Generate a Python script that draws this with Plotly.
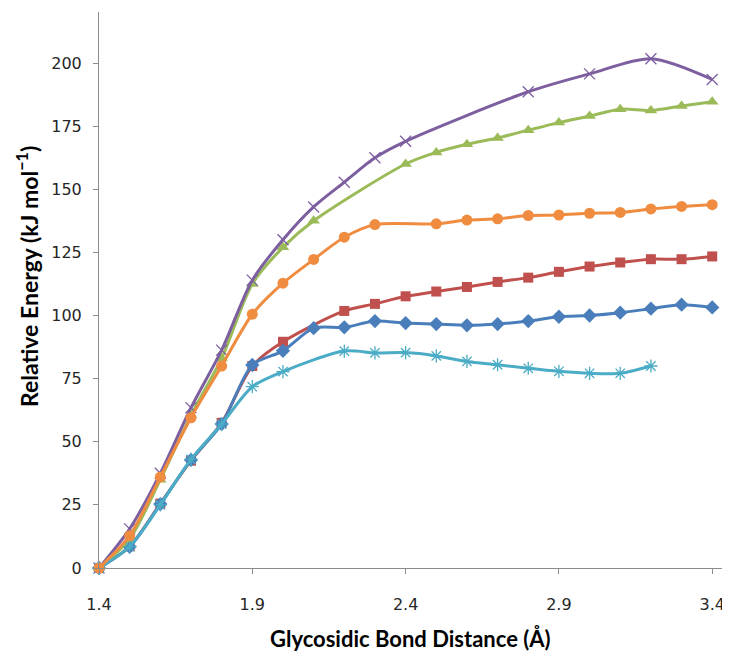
import plotly.graph_objects as go

blue_x = [1.4, 1.5, 1.6, 1.7, 1.8, 1.9, 2.0, 2.1, 2.2, 2.3, 2.4, 2.5, 2.6, 2.7, 2.8, 2.9, 3.0, 3.1, 3.2, 3.3, 3.4]
blue_y = [0, 8.4, 25.3, 42.8, 57, 80.4, 86, 95, 95.3, 97.8, 97, 96.6, 96.1, 96.6, 97.8, 99.5, 100, 101.1, 102.7, 104.3, 103.2]

red_x = [1.4, 1.5, 1.6, 1.7, 1.8, 1.9, 2.0, 2.2, 2.3, 2.4, 2.5, 2.6, 2.7, 2.8, 2.9, 3.0, 3.1, 3.2, 3.3, 3.4]
red_y = [0, 8.6, 25.5, 42.5, 57.5, 80, 89.6, 101.8, 104.6, 107.6, 109.5, 111.3, 113.3, 115, 117.3, 119.4, 121, 122.3, 122.3, 123.4]

green_x = [1.4, 1.5, 1.6, 1.7, 1.8, 1.9, 2.0, 2.1, 2.4, 2.5, 2.6, 2.7, 2.8, 2.9, 3.0, 3.1, 3.2, 3.3, 3.4]
green_y = [0, 11.5, 35, 60.5, 83, 112.5, 127, 137.5, 160, 164.6, 167.8, 170.3, 173.4, 176.4, 179, 181.7, 181.2, 183, 184.7]

purple_x = [1.4, 1.5, 1.6, 1.7, 1.8, 1.9, 2.0, 2.1, 2.2, 2.3, 2.4, 2.8, 3.0, 3.2, 3.4]
purple_y = [0, 15.5, 37.5, 63.5, 86.3, 114, 130, 143, 152.8, 162.5, 169, 188.6, 195.7, 201.7, 193.5]

cyan_x = [1.4, 1.5, 1.6, 1.7, 1.8, 1.9, 2.0, 2.2, 2.3, 2.4, 2.5, 2.6, 2.7, 2.8, 2.9, 3.0, 3.1, 3.2]
cyan_y = [0, 8.5, 25, 43, 57, 71.8, 77.8, 85.9, 85.2, 85.3, 84, 81.8, 80.5, 79.1, 77.9, 77.1, 77.1, 80]

orange_x = [1.4, 1.5, 1.6, 1.7, 1.8, 1.9, 2.0, 2.1, 2.2, 2.3, 2.5, 2.6, 2.7, 2.8, 2.9, 3.0, 3.1, 3.2, 3.3, 3.4]
orange_y = [0, 12.8, 36, 59.5, 80, 100.5, 112.8, 122.2, 131, 136, 136.3, 137.8, 138.3, 139.6, 139.8, 140.5, 140.8, 142.2, 143.2, 143.9]

x_ticks = [1.4, 1.9, 2.4, 2.9, 3.4]
y_ticks = [0, 25, 50, 75, 100, 125, 150, 175, 200]

series = [
    (red_x, red_y, "#C0504D", "square", 10, None),
    (blue_x, blue_y, "#4A7EBB", "diamond", 11, None),
    (green_x, green_y, "#9BBB59", "triangle-up", 11, None),
    (purple_x, purple_y, "#7D5FA0", "x-thin-open", 11, 1.3),
    (cyan_x, cyan_y, "#4BACC6", "asterisk-open", 11, 1.3),
    (orange_x, orange_y, "#F08C40", "circle", 11, None),
]

fig = go.Figure()
for xs, ys, col, sym, size, lw in series:
    marker = dict(symbol=sym, size=size, color=col)
    if lw is not None:
        marker["line"] = dict(color=col, width=lw)
    else:
        marker["line"] = dict(width=0)
    fig.add_trace(go.Scatter(
        x=xs, y=ys, mode="lines+markers",
        line=dict(color=col, width=3, shape="spline", smoothing=0.8),
        marker=marker, cliponaxis=False, showlegend=False,
    ))

axis_font = dict(family="DejaVu Sans, Verdana, sans-serif", size=16, color="#262626")
xtitle_font = dict(family="Lato, Open Sans, sans-serif", size=22, color="#000000")
ytitle_font = dict(family="Lato, Open Sans, sans-serif", size=23, color="#000000")

# the page body has an 8px margin, so the figure is drawn 8px in from the corner
fig.update_layout(
    width=722, height=645,
    margin=dict(l=91, r=0, t=4, b=85, autoexpand=False),
    paper_bgcolor="white", plot_bgcolor="white",
    xaxis=dict(
        range=[1.4, 3.458], tickvals=x_ticks, ticktext=[f"{v:.1f}" for v in x_ticks],
        showgrid=False, zeroline=False, showline=True, linecolor="#8C8C8C", linewidth=1,
        ticks="outside", ticklen=5, tickcolor="#8C8C8C", tickfont=axis_font,
        ticklabelstandoff=17, automargin=False,
    ),
    yaxis=dict(
        range=[0, 220.2], tickvals=y_ticks,
        showgrid=False, zeroline=False, showline=True, linecolor="#8C8C8C", linewidth=1,
        ticks="outside", ticklen=5, tickcolor="#8C8C8C", tickfont=axis_font,
        ticklabelstandoff=8, automargin=False,
    ),
    annotations=[
        dict(text="<b>Glycosidic Bond Distance (Å)</b>", xref="paper", yref="paper",
             x=(410 - 99) / 631, y=0, yshift=-70, xanchor="center", yanchor="middle",
             showarrow=False, font=xtitle_font),
        dict(text="<b>Relative Energy (kJ mol<sup>−1</sup>)</b>", xref="paper", yref="paper",
             x=0, xshift=-72, y=(568 - 277) / 556, xanchor="center", yanchor="middle",
             textangle=-90, showarrow=False, font=ytitle_font),
    ],
)

fig.write_html("out.html")
